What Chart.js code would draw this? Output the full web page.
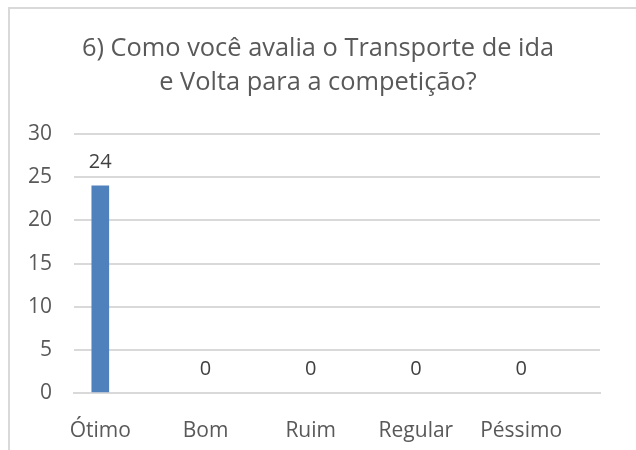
<!DOCTYPE html>
<html>
<head>
<meta charset="utf-8">
<script src="https://cdn.jsdelivr.net/npm/chart.js@4.4.1/dist/chart.umd.min.js"></script>
<style>
  html, body { margin: 0; padding: 0; background: #fff; overflow: hidden; }
  #wrap { position: relative; width: 636px; height: 450px; }
  #frame { position: absolute; left: 8px; top: 7px; width: 660px; height: 480px;
           border: 2px solid #d9d9d9; box-sizing: border-box; }
  canvas { position: absolute; left: 0; top: 0; }
</style>
</head>
<body>
<div id="wrap">
  <div id="frame"></div>
  <canvas id="c" width="636" height="450"></canvas>
</div>
<script>
const titleLines = ["6) Como você avalia o Transporte de ida", "e Volta para a competição?"];
const categories = ["Ótimo", "Bom", "Ruim", "Regular", "Péssimo"];
const values = [24, 0, 0, 0, 0];
const yTicks = [0, 5, 10, 15, 20, 25, 30];

const FONT = "'Open Sans', sans-serif";

const valueLabels = {
  id: 'valueLabels',
  afterDatasetsDraw(chart) {
    const ctx = chart.ctx;
    const meta = chart.getDatasetMeta(0);
    ctx.save();
    ctx.font = "20px " + FONT;
    ctx.fillStyle = "#404040";
    ctx.textAlign = "center";
    ctx.textBaseline = "middle";
    meta.data.forEach((bar, i) => {
      ctx.fillText(String(values[i]), bar.x, bar.y - 24);
    });
    ctx.restore();
  }
};

new Chart(document.getElementById('c'), {
  type: 'bar',
  data: {
    datasets: [{
      data: categories.map((c, i) => ({ x: i, y: values[i] })),
      backgroundColor: values.map(v => v > 0 ? '#4f81bd' : 'rgba(0,0,0,0)'),
      borderWidth: 0,
      barThickness: 17
    }]
  },
  options: {
    responsive: false,
    animation: false,
    layout: { padding: { left: 0, right: 0, top: 0, bottom: 0 } },
    plugins: {
      legend: { display: false },
      tooltip: { enabled: false },
      title: {
        display: true,
        text: titleLines,
        color: '#595959',
        font: { family: FONT, size: 25.4, weight: 'normal', lineHeight: 1.34 },
        padding: { top: 32, bottom: 34 }
      }
    },
    scales: {
      x: {
        type: 'linear',
        offset: false,
        min: -0.25,
        max: 4.75,
        grid: { display: false, offset: false },
        border: { display: true, color: '#d9d9d9', width: 2 },
        afterBuildTicks(scale) { scale.ticks = categories.map((c, i) => ({ value: i })); },
        afterFit(scale) { scale.height = 57; },
        ticks: {
          color: '#595959',
          font: { family: FONT, size: 21 },
          padding: 17,
          maxRotation: 0,
          autoSkip: false,
          callback: (v) => categories[v]
        }
      },
      y: {
        min: 0,
        max: 30,
        afterBuildTicks(scale) { scale.ticks = yTicks.map(v => ({ value: v })); },
        afterFit(scale) { scale.width = 74; },
        grid: { color: '#d9d9d9', lineWidth: 2, drawTicks: false },
        border: { display: false },
        ticks: {
          color: '#595959',
          font: { family: FONT, size: 21 },
          padding: 22
        }
      },
      yRight: {
        position: 'right',
        min: 0,
        max: 30,
        afterFit(scale) { scale.width = 36; },
        grid: { display: false },
        border: { display: false },
        ticks: { display: false }
      }
    }
  },
  plugins: [valueLabels]
});
</script>
</body>
</html>
